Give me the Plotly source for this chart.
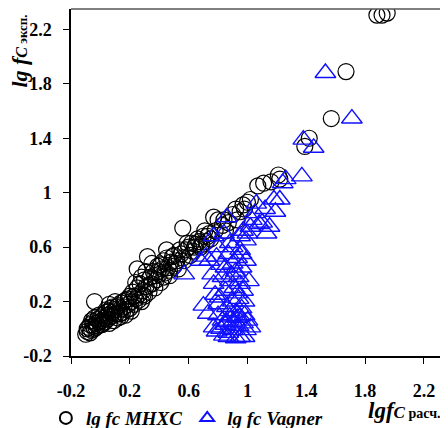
import plotly.graph_objects as go

# lg fc MHXC (circles)
mhxc_x = [-0.10, -0.09, -0.08, -0.07, -0.06, -0.05, -0.05, -0.04, -0.03, -0.02, -0.02, -0.01, 0.00, 0.00,
          0.01, 0.02, 0.02, 0.03, 0.04, 0.05, 0.05, 0.06, 0.07, 0.08, 0.08, 0.09, 0.10, 0.11, 0.12, 0.12,
          0.13, 0.14, 0.15, 0.16, 0.17, 0.18, 0.19, 0.20, 0.20, 0.21, -0.04, 0.06, 0.10,
          -0.09, -0.07, -0.06, -0.04, -0.03, -0.01, 0.01, 0.03, 0.04, 0.06, 0.07, 0.09, 0.11, 0.13, 0.14,
          0.16, 0.17, 0.19, 0.21, 0.23, 0.24, 0.26, 0.28, 0.29, 0.31, 0.33, 0.35, 0.37, 0.39, 0.41, 0.43,
          0.45, 0.47, 0.49, 0.51, 0.54, 0.56, 0.59, 0.64, 0.67, 0.69, 0.71, 0.73,
          0.22, 0.23, 0.24, 0.25, 0.25, 0.26, 0.27, 0.28, 0.29, 0.30, 0.30, 0.31, 0.32, 0.33, 0.34, 0.35,
          0.36, 0.37, 0.38, 0.39, 0.40, 0.41, 0.42, 0.43, 0.44, 0.45, 0.46, 0.47, 0.48, 0.50, 0.50, 0.52,
          0.53, 0.55, 0.56, 0.57, 0.58, 0.60, 0.61, 0.62, 0.63, 0.65, 0.66, 0.68, 0.70, 0.72, 0.74, 0.75,
          0.77, 0.78, 0.80, 0.83, 0.84, 0.85, 0.87, 0.90, 0.92, 0.93, 0.95, 0.97, 0.98, 1.00, 1.02,
          1.07, 1.11, 1.16, 1.21, 1.22, 1.39, 1.42, 1.57, 1.67, 1.88, 1.915, 1.95]
mhxc_y = [-0.04, -0.02, 0.01, 0.03, -0.01, 0.02, 0.05, 0.00, 0.04, 0.07, 0.02, 0.05, 0.03, 0.08,
          0.06, 0.10, 0.04, 0.08, 0.12, 0.07, 0.10, 0.13, 0.09, 0.12, 0.16, 0.10, 0.14, 0.11, 0.17, 0.08,
          0.14, 0.19, 0.12, 0.16, 0.21, 0.14, 0.18, 0.24, 0.15, 0.20, 0.20, 0.18, 0.20,
          0.00, -0.03, 0.06, 0.08, 0.01, 0.10, 0.03, 0.05, 0.14, 0.04, 0.15, 0.06, 0.16, 0.11, 0.09,
          0.20, 0.10, 0.22, 0.13, 0.24, 0.34, 0.21, 0.38, 0.25, 0.42, 0.32, 0.48, 0.39, 0.42, 0.47, 0.38,
          0.52, 0.43, 0.53, 0.48, 0.58, 0.52, 0.63, 0.60, 0.64, 0.62, 0.72, 0.68,
          0.27, 0.18, 0.22, 0.30, 0.44, 0.25, 0.33, 0.20, 0.28, 0.36, 0.24, 0.31, 0.53, 0.27, 0.38, 0.33,
          0.42, 0.30, 0.36, 0.46, 0.40, 0.34, 0.44, 0.50, 0.41, 0.58, 0.45, 0.39, 0.49, 0.46, 0.54, 0.50,
          0.44, 0.55, 0.74, 0.50, 0.58, 0.60, 0.54, 0.63, 0.57, 0.62, 0.66, 0.60, 0.68, 0.64, 0.70, 0.66,
          0.82, 0.72, 0.80, 0.76, 0.80, 0.72, 0.78, 0.84, 0.88, 0.80, 0.86, 0.91, 0.88, 0.93, 0.95,
          1.05, 1.07, 1.08, 1.13, 1.10, 1.34, 1.40, 1.545, 1.89, 2.305, 2.305, 2.32]

# lg fc Vagner (triangles)
vag_x = [0.57, 0.68, 0.72, 0.70, 0.73, 0.77, 0.77, 0.79, 0.74, 0.86, 0.77, 1.06, 1.08, 1.19, 1.22, 1.24,
         1.37, 1.13, 1.02, 0.99, 0.95, 0.88, 0.90, 0.99, 0.83, 0.95, 0.93, 0.81, 0.86, 0.95, 0.99, 0.90,
         0.83, 0.79, 0.88, 0.98, 1.00, 0.95, 1.02, 0.80, 0.82, 0.85, 0.87, 0.90, 0.92, 0.94, 0.96, 0.97,
         0.98, 0.85, 0.88, 0.90, 0.92, 0.94, 0.96, 0.97, 0.85, 0.87, 0.90, 0.93, 0.95, 0.97, 1.00, 1.03,
         1.05, 1.10, 1.12, 1.15, 1.18, 1.26, 1.38, 1.45, 1.53, 1.71, 0.84, 0.92, 0.80, 0.78, 0.76, 0.82,
         0.80, 0.84, 0.88, 0.91, 0.93, 0.96, 0.86, 0.89, 0.94, 0.98, 1.01, 0.87]
vag_y = [0.40, 0.50, 0.53, 0.17, 0.11, 0.01, 0.33, 0.53, 0.50, 0.82, 0.68, 0.92, 0.77, 0.86, 0.95, 1.07,
         1.12, 0.70, 0.75, 0.65, 0.58, 0.63, 0.48, 0.50, 0.38, 0.33, 0.26, 0.23, 0.16, 0.09, -0.01, -0.01,
         0.06, -0.02, 0.09, -0.06, 0.06, -0.06, 0.01, 0.10, 0.00, 0.03, -0.03, 0.05, 0.12, 0.02, 0.15, 0.04,
         0.20, 0.28, 0.35, 0.20, 0.42, 0.38, 0.45, 0.28, 0.45, 0.55, 0.60, 0.52, 0.68, 0.72, 0.70, 0.80,
         0.85, 0.78, 0.88, 0.75, 0.95, 1.10, 1.39, 1.33, 1.88, 1.545, -0.05, -0.07, 0.18, 0.25, 0.40, 0.47,
         0.60, 0.70, 0.13, 0.30, 0.08, 0.55, 0.05, 0.40, 0.22, 0.10, 0.35, -0.06]

x_ticks = [-0.2, 0.2, 0.6, 1.0, 1.4, 1.8, 2.2]
x_tick_labels = ["-0.2", "0.2", "0.6", "1", "1.4", "1.8", "2.2"]
y_ticks = [-0.2, 0.2, 0.6, 1.0, 1.4, 1.8, 2.2]
y_tick_labels = ["-0.2", "0.2", "0.6", "1", "1.4", "1.8", "2.2"]

SERIF = "Liberation Serif"

fig = go.Figure()
fig.add_trace(go.Scatter(
    x=mhxc_x, y=mhxc_y, mode="markers", name="lg fc MHXC",
    marker=dict(symbol="circle-open", size=16, color="black", line=dict(width=1.2, color="black")),
))
fig.add_trace(go.Scatter(
    x=vag_x, y=vag_y, mode="markers", name="lg fc Vagner",
    marker=dict(symbol="triangle-up-open", size=18, color="#1010ff", line=dict(width=1.4, color="#1010ff")),
))

axis_common = dict(
    showgrid=False, zeroline=False, showline=True, linecolor="black", linewidth=1.5,
    ticks="outside", ticklen=6, tickwidth=1.2, tickcolor="black",
    tickfont=dict(family=SERIF, size=18, color="black", weight="bold"),
    range=[-0.2, 2.35], automargin=False,
)
fig.update_xaxes(**axis_common, tickvals=x_ticks, ticktext=x_tick_labels, ticklabelstandoff=12)
fig.update_yaxes(**axis_common, tickvals=y_ticks, ticktext=y_tick_labels, ticklabelstandoff=8)

# top and right frame (gray)
fig.add_shape(type="line", xref="paper", yref="paper", x0=0, x1=1, y0=1, y1=1,
              line=dict(color="#555555", width=1.5))
fig.add_shape(type="line", xref="paper", yref="paper", x0=1, x1=1, y0=0, y1=1,
              line=dict(color="#555555", width=1.5))

fig.add_annotation(
    xref="paper", yref="paper", x=0.787, y=-0.157, xanchor="left", yanchor="middle", showarrow=False,
    text="<b><i>lgf</i><i><span style='font-size:17px'>C</span></i><span style='font-size:14px'> расч.</span></b>",
    font=dict(family=SERIF, size=23, color="black"),
)
fig.add_annotation(
    xref="paper", yref="paper", x=-0.137, y=0.99, xanchor="center", yanchor="top", showarrow=False,
    textangle=-90,
    text="<b><i>lg f</i><i><span style='font-size:16px'>C</span></i><span style='font-size:13px'> эксп.</span></b>",
    font=dict(family=SERIF, size=22, color="black"),
)

# page body adds an 8px offset, so the figure is 8px smaller than the window on each axis
fig.update_layout(
    width=440, height=420,
    margin=dict(l=63, r=2, t=1, b=72, autoexpand=False),
    paper_bgcolor="white", plot_bgcolor="white",
    font=dict(family=SERIF),
    showlegend=True,
    legend=dict(orientation="h", x=-0.067, y=-0.124, xanchor="left", yanchor="top",
                font=dict(family=SERIF, size=19, color="black", weight="bold", style="italic"),
                itemsizing="constant", bgcolor="rgba(0,0,0,0)", tracegroupgap=0),
)

fig.write_html("out.html")
